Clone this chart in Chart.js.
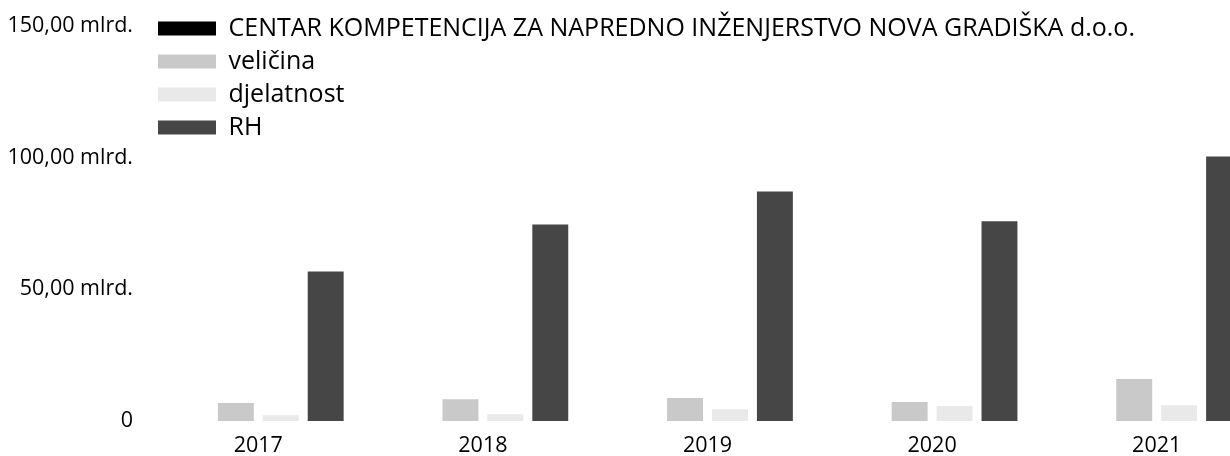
<!DOCTYPE html>
<html>
<head>
<meta charset="utf-8">
<script src="https://cdn.jsdelivr.net/npm/chart.js@4.4.1/dist/chart.umd.min.js"></script>
<style>
  html, body { margin: 0; padding: 0; background: #fff; overflow: hidden; }
  #wrap { width: 1269px; height: 456px; }
</style>
</head>
<body>
<div id="wrap"><canvas id="one"></canvas></div>
<script>
// values, in milliards
const years = ['2017', '2018', '2019', '2020', '2021'];
const centar = [0, 0, 0, 0, 0];
const velicina = [6.8, 8.3, 8.7, 7.2, 15.9];
const djelatnost = [2.2, 2.6, 4.5, 5.7, 6.0];
const rh = [56.8, 74.6, 87.1, 75.8, 100.4];
const yTicks = [0, 50, 100, 150];

const one = document.getElementById('one');

Chart.defaults.font.family = "'Open Sans', sans-serif";
Chart.defaults.font.size = 21.5;
Chart.defaults.color = '#000';

// legend sits inside the plot, a bit above its top edge
const legendUp = {
  id: 'legendUp',
  afterLayout(chart) {
    const lg = chart.legend;
    const h = lg.bottom - lg.top;
    const w = lg.right - lg.left;
    lg.top = chart.chartArea.top - 18;
    lg.bottom = lg.top + h;
    lg.left = chart.chartArea.left + 4;
    lg.right = lg.left + w;
  }
};

new Chart(one, {
  type: 'bar',
  data: {
    labels: years,
    datasets: [
      { label: 'CENTAR KOMPETENCIJA ZA NAPREDNO INŽENJERSTVO NOVA GRADIŠKA d.o.o.', data: centar, backgroundColor: '#000' },
      { label: 'veličina', data: velicina, backgroundColor: '#c9c9c9' },
      { label: 'djelatnost', data: djelatnost, backgroundColor: '#e9e9e9' },
      { label: 'RH', data: rh, backgroundColor: '#464646' }
    ]
  },
  options: {
    responsive: true,
    maintainAspectRatio: false,
    animation: false,
    layout: { padding: { top: 25, left: 0, right: 0, bottom: 0 } },
    datasets: {
      bar: { categoryPercentage: 0.8, barPercentage: 0.8, borderWidth: 0 }
    },
    plugins: {
      tooltip: { enabled: false },
      legend: {
        position: 'chartArea',
        align: 'start',
        labels: {
          boxWidth: 58,
          boxHeight: 14,
          padding: 8,
          color: '#000',
          font: { size: 25 }
        }
      }
    },
    scales: {
      x: {
        grid: { display: false, drawTicks: false },
        border: { display: false },
        ticks: { padding: 12, color: '#000' },
        afterFit: function (scale) { scale.height = 35; }
      },
      y: {
        min: 0,
        max: 150,
        grid: { display: false, drawTicks: false },
        border: { display: false },
        afterBuildTicks: function (scale) {
          scale.ticks = yTicks.map(v => ({ value: v }));
        },
        ticks: {
          padding: 13,
          color: '#000',
          callback: function (v) {
            if (v === 0) return '0';
            return v.toFixed(2).replace('.', ',') + ' mlrd.';
          }
        },
        afterFit: function (scale) { scale.width = 146; }
      }
    }
  },
  plugins: [legendUp]
});
</script>
</body>
</html>
